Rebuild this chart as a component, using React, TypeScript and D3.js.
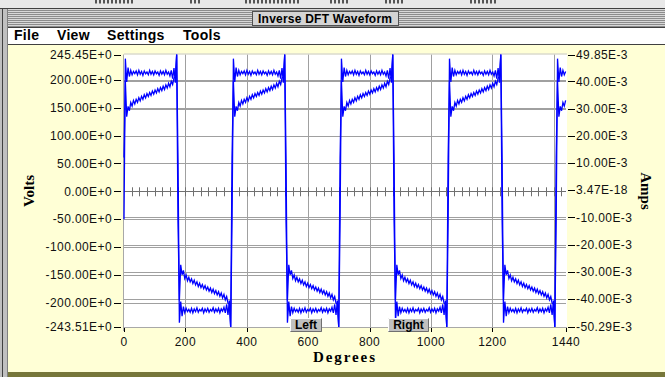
import React from "react";
import * as d3 from "d3";

// one period of the inverse DFT output (samples every 4.4 deg)
const voltsPeriod = [
  -50, 238, 196, 222, 206, 217, 209, 215, 211, 216,
  209, 217, 210, 215, 208, 216, 211, 214, 209, 217,
  210, 215, 209, 216, 211, 214, 208, 216, 210, 215,
  209, 217, 210, 214, 207, 217, 202, 221, 195, 245.45,
  50, -236, -198, -224, -207, -218, -210, -216, -212, -217,
  -210, -218, -211, -216, -209, -217, -212, -215, -210, -218,
  -211, -216, -210, -217, -212, -215, -209, -217, -211, -216,
  -210, -218, -211, -215, -208, -218, -203, -222, -196, -243.51,
];

// current, in E-3 amps
const ampsPeriod = [
  12, 40, 27, 30.8, 29.2, 32.2, 30.9, 33.0, 31.7, 33.4,
  32.3, 34.0, 32.8, 34.5, 33.4, 35.1, 33.9, 35.5, 34.4, 35.9,
  34.8, 36.4, 35.3, 36.8, 35.7, 37.3, 36.1, 37.7, 36.6, 38.2,
  37.0, 38.7, 37.5, 39.3, 38.0, 40.0, 38.8, 41.2, 41.6, 49.85,
  -12, -40.5, -27.4, -31.1, -29.5, -32.5, -31.2, -33.3, -32.0, -33.7,
  -32.6, -34.3, -33.1, -34.8, -33.7, -35.4, -34.2, -35.8, -34.7, -36.2,
  -35.1, -36.7, -35.6, -37.1, -36.0, -37.6, -36.4, -38.0, -36.9, -38.5,
  -37.3, -39.0, -37.8, -39.6, -38.3, -40.3, -39.1, -41.5, -41.9, -50.29,
];

const degStep = 4.4;
const sampleCount = 328;

const voltsTicks = [245.45, 200, 150, 100, 50, 0, -50, -100, -150, -200, -243.51];
const voltsTickLabels = [
  "245.45E+0", "200.00E+0", "150.00E+0", "100.00E+0", "50.00E+0", "0.00E+0",
  "-50.00E+0", "-100.00E+0", "-150.00E+0", "-200.00E+0", "-243.51E+0",
];
const ampsTicks = [49.85, 40, 30, 20, 10, 0, -10, -20, -30, -40, -50.29];
const ampsTickLabels = [
  "49.85E-3", "40.00E-3", "30.00E-3", "20.00E-3", "10.00E-3", "3.47E-18",
  "-10.00E-3", "-20.00E-3", "-30.00E-3", "-40.00E-3", "-50.29E-3",
];
const degreeTicks = [0, 200, 400, 600, 800, 1000, 1200, 1440];
const degreeTickLabels = ["0", "200", "400", "600", "800", "1000", "1200", "1440"];
const degreeGrid = [200, 400, 600, 800, 1000, 1200, 1400];
const menuItems = ["File", "View", "Settings", "Tools"];

const W = 665;
const H = 377;
const plot = { left: 124, right: 566, top: 54.5, bottom: 327 };
const tickFont = "'Liberation Sans', Arial, sans-serif";
const serif = "'Liberation Serif', 'Times New Roman', serif";

const App = () => {
  const x = d3.scaleLinear().domain([0, 1440]).range([plot.left, plot.right]);
  const yV = d3.scaleLinear().domain([-243.51, 245.45]).range([plot.bottom, plot.top]);
  const yA = d3.scaleLinear().domain([-50.29, 49.85]).range([plot.bottom, plot.top]);

  const idx = d3.range(sampleCount);
  const volts = idx.map((i) => voltsPeriod[i % voltsPeriod.length]);
  const amps = idx.map((i) => ampsPeriod[i % ampsPeriod.length]);

  const voltsLine = d3.line<number>().x((_, i) => x(i * degStep)).y((d) => yV(d));
  const ampsLine = d3.line<number>().x((_, i) => x(i * degStep)).y((d) => yA(d));

  const minorTicks = d3.range(25, 1440, 25);
  const stripes = d3.range(10, 27, 2);
  const menuX = [14, 57, 107, 183];

  return (
    <svg width={W} height={H} style={{ position: "absolute", left: 0, top: 0, display: "block" }}>
      {/* strip of window behind */}
      <rect x={0} y={0} width={W} height={9} fill="#e8e8e8" />
      <path d="M95,1h40M190,1h12M245,1h55M330,1h18M385,1h20M470,1h28" stroke="#555" strokeWidth={5} strokeDasharray="2 2" />
      <line x1={0} x2={W} y1={8.5} y2={8.5} stroke="#404040" />

      {/* window frame */}
      <rect x={0} y={9} width={9} height={H - 9} fill="#c0c0c0" />
      <line x1={2.5} x2={2.5} y1={9} y2={H} stroke="#404040" />
      <line x1={7.5} x2={7.5} y1={9} y2={H} stroke="#808080" />

      {/* title bar */}
      <rect x={8} y={9} width={W - 8} height={18} fill="#d8d8d8" />
      {stripes.map((s) => (
        <line key={s} x1={8} x2={W} y1={s + 0.5} y2={s + 0.5} stroke="#8c8c8c" />
      ))}
      <rect x={252.5} y={11.5} width={146} height={14} fill="#d4d4d4" stroke="#505050" />
      <text x={325} y={23} textAnchor="middle" fontFamily={tickFont} fontWeight="bold" fontSize={12} textLength={134} lengthAdjust="spacing">
        Inverse DFT Waveform
      </text>

      {/* menu */}
      <rect x={8} y={27} width={W - 8} height={17} fill="#ffffff" />
      <line x1={8} x2={W} y1={27.5} y2={27.5} stroke="#404040" />
      <line x1={8} x2={W} y1={44.5} y2={44.5} stroke="#404040" />
      {menuItems.map((m, i) => (
        <text key={m} x={menuX[i]} y={40} fontFamily={tickFont} fontWeight="bold" fontSize={14} letterSpacing={0.3}>
          {m}
        </text>
      ))}

      {/* client area */}
      <rect x={8} y={45} width={W - 8} height={327} fill="#ffffd6" />
      <rect x={8} y={372} width={W - 8} height={5} fill="#77773a" />

      {/* plot area */}
      <rect x={plot.left} y={plot.top} width={plot.right - plot.left + 1} height={plot.bottom - plot.top} fill="#ffffff" />

      {degreeGrid.map((d) => (
        <line key={d} x1={Math.round(x(d)) + 0.5} x2={Math.round(x(d)) + 0.5} y1={plot.top} y2={plot.bottom} stroke="#a0a0a0" />
      ))}
      {voltsTicks.slice(1, -1).filter((v) => v !== 0).map((v) => (
        <line key={"v" + v} x1={plot.left} x2={plot.right} y1={Math.round(yV(v)) + 0.5} y2={Math.round(yV(v)) + 0.5} stroke="#a0a0a0" />
      ))}
      {ampsTicks.slice(1, -1).filter((v) => v !== 0).map((v) => (
        <line key={"a" + v} x1={plot.left} x2={plot.right} y1={Math.round(yA(v)) + 0.5} y2={Math.round(yA(v)) + 0.5} stroke="#a0a0a0" />
      ))}

      {/* zero line with degree marks */}
      <line x1={plot.left} x2={plot.right} y1={Math.round(yV(0)) + 0.5} y2={Math.round(yV(0)) + 0.5} stroke="#707070" />
      {minorTicks.map((d) => (
        <line key={d} x1={Math.round(x(d)) + 0.5} x2={Math.round(x(d)) + 0.5} y1={yV(0) - 4} y2={yV(0) + 5} stroke="#707070" />
      ))}

      {/* frame */}
      <line x1={plot.left - 0.5} x2={plot.left - 0.5} y1={plot.top} y2={plot.bottom + 4} stroke="#a8a8a8" />
      <line x1={plot.left} x2={plot.right + 1} y1={plot.top - 0.5} y2={plot.top - 0.5} stroke="#c8c8c8" />
      <line x1={plot.left} x2={plot.right + 1} y1={plot.bottom + 0.5} y2={plot.bottom + 0.5} stroke="#a8a8a8" />

      {/* traces */}
      <path d={ampsLine(amps) ?? ""} fill="none" stroke="#0000ff" strokeWidth={1.3} />
      <path d={voltsLine(volts) ?? ""} fill="none" stroke="#0000ff" strokeWidth={1.3} />

      {/* left axis */}
      {voltsTicks.map((v, i) => (
        <g key={v}>
          <line x1={114} x2={121} y1={Math.round(yV(v)) + 0.5} y2={Math.round(yV(v)) + 0.5} stroke="#000" />
          <text x={112} y={yV(v)} dy="0.36em" textAnchor="end" fontFamily={tickFont} fontSize={12} letterSpacing={0.4} fill="#111">
            {voltsTickLabels[i]}
          </text>
        </g>
      ))}

      {/* right axis */}
      {ampsTicks.map((v, i) => (
        <g key={v}>
          <line x1={568} x2={575} y1={Math.round(yA(v)) + 0.5} y2={Math.round(yA(v)) + 0.5} stroke="#000" />
          <text x={576} y={yA(v)} dy="0.36em" textAnchor="start" fontFamily={tickFont} fontSize={12} letterSpacing={0.4} fill="#111">
            {ampsTickLabels[i]}
          </text>
        </g>
      ))}

      {/* bottom axis */}
      {degreeTicks.map((d, i) => (
        <g key={d}>
          <line x1={Math.round(x(d)) + 0.5} x2={Math.round(x(d)) + 0.5} y1={plot.bottom + 1} y2={plot.bottom + 5} stroke="#000" />
          <text x={x(d)} y={346} textAnchor="middle" fontFamily={tickFont} fontSize={12} letterSpacing={0.4} fill="#111">
            {degreeTickLabels[i]}
          </text>
        </g>
      ))}

      {/* axis titles */}
      <text transform="translate(34,191) rotate(-90)" textAnchor="middle" fontFamily={serif} fontWeight="bold" fontSize={15}>
        Volts
      </text>
      <text transform="translate(641,191) rotate(90)" textAnchor="middle" fontFamily={serif} fontWeight="bold" fontSize={15}>
        Amps
      </text>
      <text x={344} y={362} textAnchor="middle" fontFamily={serif} fontWeight="bold" fontSize={15} textLength={62} lengthAdjust="spacing">
        Degrees
      </text>

      {/* buttons */}
      {[
        { label: "Left", x0: 290, w: 32 },
        { label: "Right", x0: 388, w: 41 },
      ].map((b) => (
        <g key={b.label}>
          <rect x={b.x0} y={318} width={b.w} height={14} fill="#c0c0c0" />
          <path d={`M${b.x0 + 0.5},${331.5}V318.5H${b.x0 + b.w - 0.5}`} fill="none" stroke="#ffffff" />
          <path d={`M${b.x0 + 0.5},${331.5}H${b.x0 + b.w - 0.5}V318.5`} fill="none" stroke="#707070" />
          <text x={b.x0 + b.w / 2} y={329} textAnchor="middle" fontFamily={tickFont} fontWeight="bold" fontSize={12}>
            {b.label}
          </text>
        </g>
      ))}
    </svg>
  );
};

export default App;
